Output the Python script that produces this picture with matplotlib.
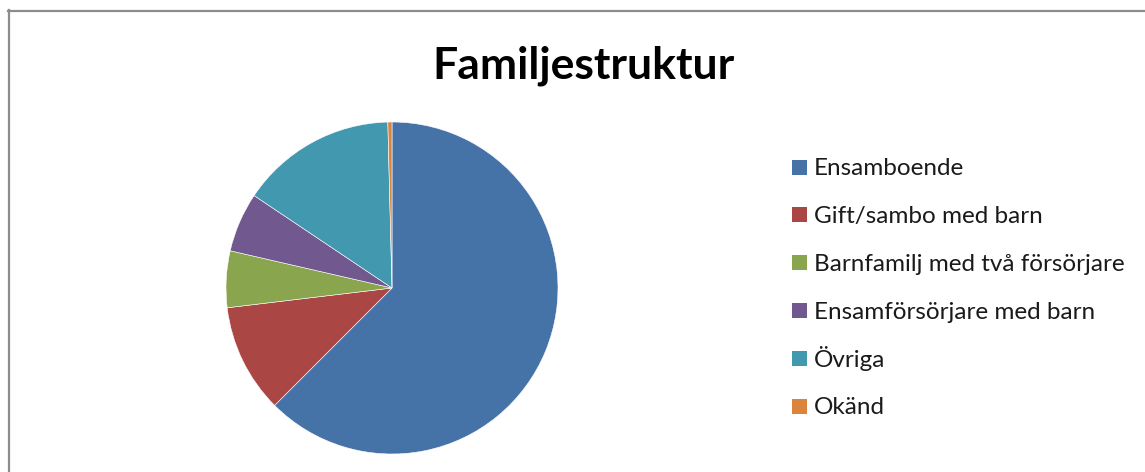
import matplotlib
matplotlib.use("Agg")
import matplotlib.pyplot as plt
from matplotlib.lines import Line2D
from matplotlib.patches import Rectangle

# data
labels = ["Ensamboende", "Gift/sambo med barn", "Barnfamilj med två försörjare",
          "Ensamförsörjare med barn", "Övriga", "Okänd"]
values = [62.5, 10.6, 5.5, 5.8, 15.2, 0.4]
colors = ["#4572A7", "#AA4643", "#89A54E", "#71588F", "#4198AF", "#DB843D"]

W, H = 1145, 472
fig = plt.figure(figsize=(W / 100, H / 100), dpi=100)
fig.patch.set_facecolor("white")

# frame around the chart (cut off at right and bottom as in the screenshot)
fig.add_artist(Line2D([8 / W, 1], [1 - 11 / H, 1 - 11 / H], transform=fig.transFigure,
                      color="#8c8c8c", lw=1.6))
fig.add_artist(Line2D([9 / W, 9 / W], [1 - 10 / H, 0], transform=fig.transFigure,
                      color="#8c8c8c", lw=1.6))

# pie, centre (392, 288) px, radius 166 px
cx, cy, r = 392, 288, 166
ax = fig.add_axes([(cx - r) / W, 1 - (cy + r) / H, 2 * r / W, 2 * r / H])
wedges, _ = ax.pie(values, colors=colors, startangle=90, counterclock=False,
                   wedgeprops=dict(edgecolor="white", linewidth=0.4))
ax.set_xlim(-1, 1)
ax.set_ylim(-1, 1)
ax.axis("off")

fig.text(584 / W, 1 - 78 / H, "Familjestruktur", ha="center", va="baseline",
         fontsize=32, fontweight="bold", family="Lato", color="black")

# legend, drawn entry by entry so the rows keep an even spacing
base0, step = 175, 47.9
for i, (lab, col) in enumerate(zip(labels, colors)):
    yb = base0 + step * i
    fig.add_artist(Rectangle((792 / W, 1 - (yb - 0.5) / H), 15 / W, 15 / H,
                             transform=fig.transFigure, facecolor=col,
                             edgecolor="none"))
    fig.text(814 / W, 1 - yb / H, lab, ha="left", va="baseline",
             fontsize=17.5, family="Lato", color="#1a1a1a")

fig.savefig("out.png", dpi=100)
